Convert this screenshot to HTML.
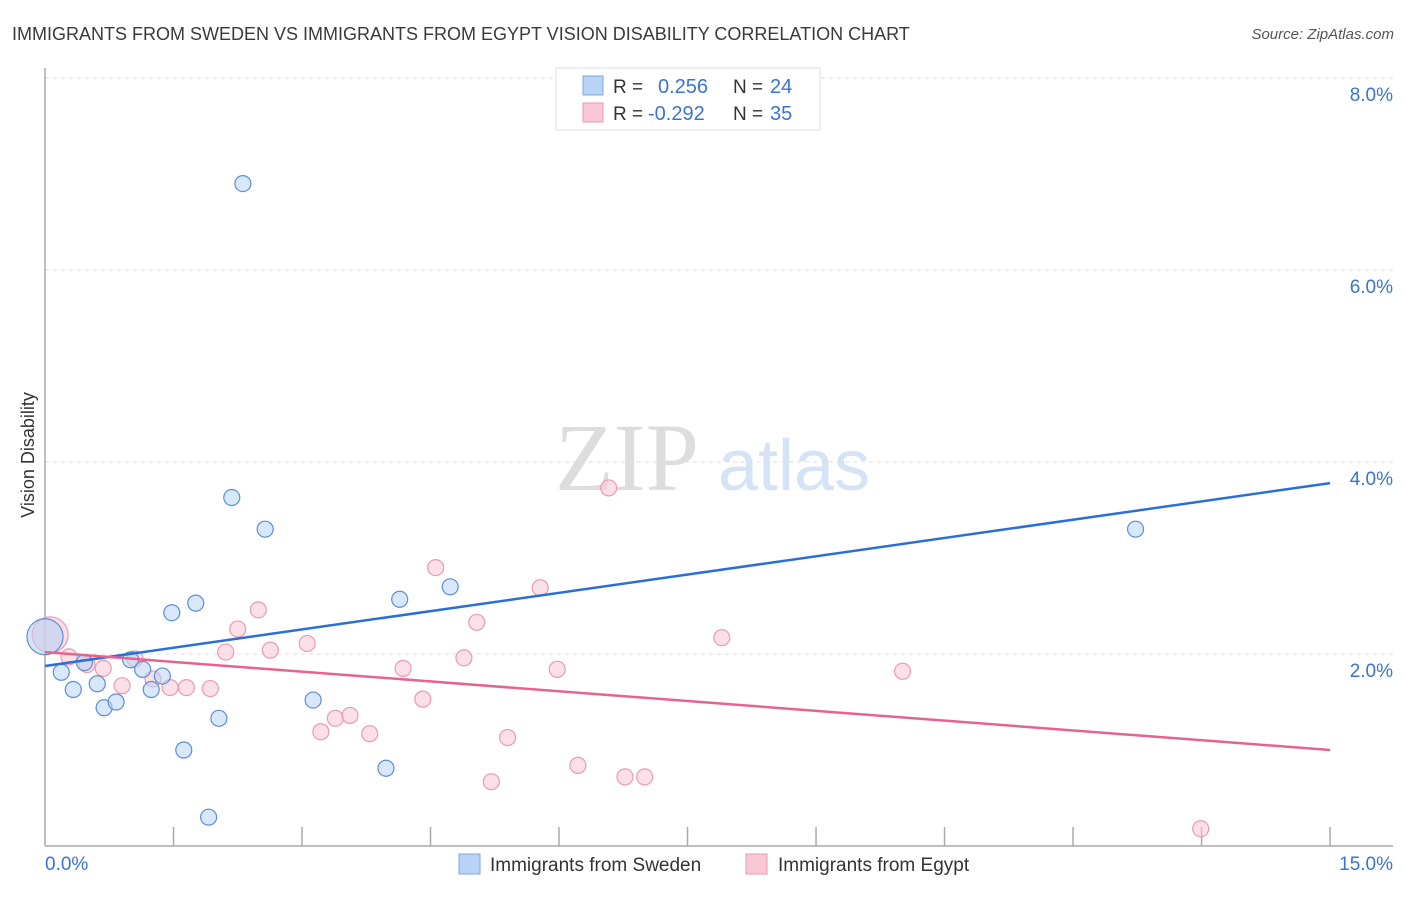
<!DOCTYPE html>
<html><head><meta charset="utf-8"><style>
body{margin:0;background:#fff;font-family:"Liberation Sans",sans-serif}
</style></head><body>
<svg id="c" width="1406" height="892" xmlns="http://www.w3.org/2000/svg" font-family="Liberation Sans, sans-serif">
<text x="12" y="40" font-size="18" fill="#3a3a3a">IMMIGRANTS FROM SWEDEN VS IMMIGRANTS FROM EGYPT VISION DISABILITY CORRELATION CHART</text>
<text x="1394" y="39" font-size="15" fill="#555" font-style="italic" text-anchor="end">Source: ZipAtlas.com</text>
<text x="555" y="490" font-size="96" font-family="Liberation Serif, serif" fill="#ddd">ZIP</text>
<text x="718" y="490" font-size="72" fill="#d4e3f5">atlas</text>
<text transform="translate(34,455) rotate(-90)" font-size="18" fill="#333" text-anchor="middle">Vision Disability</text>
<g id="grid"></g><g id="axes"></g><g id="lines"></g><g id="pts"></g>
<g>
<rect x="556" y="68" width="264" height="62" fill="#fff" stroke="#ddd"/>
<rect x="583" y="76" width="20" height="19" fill="#b8d3f5" stroke="#7ea7e0"/>
<rect x="583" y="103" width="20" height="19" fill="#f9c6d6" stroke="#ec99b3"/>
<text x="613" y="93" font-size="19" fill="#333">R = </text><text x="658" y="93" font-size="20" fill="#3b73d1">0.256</text>
<text x="733" y="93" font-size="19" fill="#333">N = </text><text x="770" y="93" font-size="20" fill="#3b73d1">24</text>
<text x="613" y="120" font-size="19" fill="#333">R = </text><text x="648" y="120" font-size="20" fill="#3b73d1">-0.292</text>
<text x="733" y="120" font-size="19" fill="#333">N = </text><text x="770" y="120" font-size="20" fill="#3b73d1">35</text>
</g>
<g>
<rect x="459" y="854" width="21" height="20" fill="#b8d3f5" stroke="#7ea7e0"/>
<text x="490" y="871" font-size="19" fill="#333">Immigrants from Sweden</text>
<rect x="746" y="854" width="21" height="20" fill="#f9c6d6" stroke="#ec99b3"/>
<text x="778" y="871" font-size="19" fill="#333">Immigrants from Egypt</text>
</g>
</svg>
<script>
const yTicks=[2,4,6,8];
const yTickLabels=["2.0%","4.0%","6.0%","8.0%"];
const xTickVals=[1.5,3,4.5,6,7.5,9,10.5,12,13.5,15];
const swedenX=[0.0,0.19,0.33,0.46,0.61,0.69,0.83,1.00,1.14,1.24,1.37,1.48,1.62,1.76,1.91,2.03,2.18,2.31,2.57,3.13,3.98,4.14,4.73,12.73];
const swedenY=[2.18,1.81,1.63,1.91,1.69,1.44,1.50,1.94,1.84,1.63,1.77,2.43,1.00,2.53,0.30,1.33,3.63,6.90,3.30,1.52,0.81,2.57,2.70,3.30];
const egyptX=[0.06,0.28,0.49,0.68,0.90,1.05,1.26,1.46,1.65,1.93,2.11,2.25,2.49,2.63,3.06,3.22,3.39,3.56,3.79,4.18,4.41,4.56,4.89,5.04,5.21,5.40,5.78,5.98,6.22,6.58,6.77,7.00,7.90,10.01,13.49];
const egyptY=[2.20,1.97,1.89,1.85,1.67,1.95,1.74,1.65,1.65,1.64,2.02,2.26,2.46,2.04,2.11,1.19,1.33,1.36,1.17,1.85,1.53,2.90,1.96,2.33,0.67,1.13,2.69,1.84,0.84,3.73,0.72,0.72,2.17,1.82,0.18];
const swedenTrend=[1.875,3.78];
const egyptTrend=[2.02,1.0];
const NS="http://www.w3.org/2000/svg";
const X=v=>45+v*85.67, Y=v=>846-v*96;
function mk(t,a,p){const e=document.createElementNS(NS,t);for(const k in a)e.setAttribute(k,a[k]);p.appendChild(e);return e;}
const grid=document.getElementById('grid'),axes=document.getElementById('axes'),lines=document.getElementById('lines'),pts=document.getElementById('pts');
yTicks.forEach((v,i)=>{
 const l=mk('line',{x1:45,x2:1393,y1:Y(v),y2:Y(v),stroke:'#ddd','stroke-dasharray':'4,4'},grid);
 
 
 const t=mk('text',{x:1393,y:Y(v)+23,'font-size':19,fill:'#3b73d1','text-anchor':'end'},grid);
 t.textContent=yTickLabels[i];
 
 
});
mk('line',{x1:45,x2:45,y1:68,y2:846,stroke:'#aaa','stroke-width':1.5},axes);
mk('line',{x1:45,x2:1393,y1:846,y2:846,stroke:'#aaa','stroke-width':1.5},axes);
xTickVals.forEach(v=>{const t=mk('line',{x1:X(v),x2:X(v),y1:827,y2:846,stroke:'#aaa','stroke-width':1.5},axes);
 
 });
const x0=mk('text',{x:45,y:870,'font-size':19,fill:'#3b73d1'},axes);x0.textContent='0.0%';


const x1=mk('text',{x:1393,y:870,'font-size':19,fill:'#3b73d1','text-anchor':'end'},axes);x1.textContent='15.0%';


function pointsFor(xs,ys,fill,stroke,name){xs.forEach((x,i)=>{
 const r=i===0?18:8;
 const c=mk('circle',{cx:X(x),cy:Y(ys[i]),r:r,fill:fill,'fill-opacity':i===0?0.6:0.55,stroke:stroke,'stroke-width':1.2},pts);
 
 });}
pointsFor(egyptX,egyptY,'#f9c6d6','#ec99b3','egypt-point');
pointsFor(swedenX,swedenY,'#b8d3f5','#5b8fd8','sweden-point');
const lb=mk('line',{x1:X(0),y1:Y(swedenTrend[0]),x2:X(15),y2:Y(swedenTrend[1]),stroke:'#2a6fd6','stroke-width':2.5},lines);


const lp=mk('line',{x1:X(0),y1:Y(egyptTrend[0]),x2:X(15),y2:Y(egyptTrend[1]),stroke:'#e8628f','stroke-width':2.5},lines);


document.getElementById('c').appendChild(lines);
</script>
</body></html>
